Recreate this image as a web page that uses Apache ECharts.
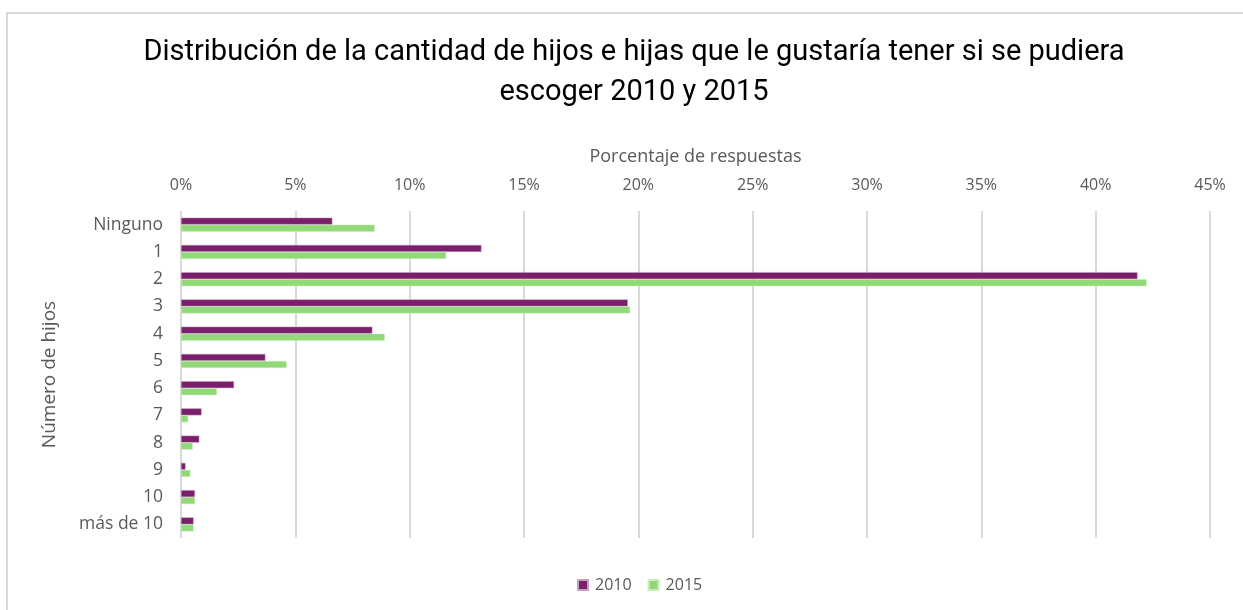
<!DOCTYPE html>
<html>
<head>
<meta charset="utf-8">
<style>
  html, body { margin: 0; padding: 0; background: #ffffff; }
  #chart { width: 1243px; height: 610px; }
</style>
<script src="https://cdn.jsdelivr.net/npm/echarts@6/dist/echarts.min.js"></script>
</head>
<body>
<div id="chart"></div>
<script>
// Categories: number of children, top to bottom
const categories = ['Ninguno', '1', '2', '3', '4', '5', '6', '7', '8', '9', '10', 'más de 10'];

// Share of answers (%) per survey year
const values2010 = [6.62, 13.14, 41.83, 19.54, 8.37, 3.69, 2.32, 0.90, 0.80, 0.20, 0.61, 0.55];
const values2015 = [8.47, 11.60, 42.23, 19.64, 8.91, 4.62, 1.57, 0.31, 0.51, 0.41, 0.61, 0.55];

// Percentage axis ticks
const xTicks = [0, 5, 10, 15, 20, 25, 30, 35, 40, 45];

const chart = echarts.init(document.getElementById('chart'), null, { renderer: 'canvas' });

const axisGray = '#595959';

chart.setOption({
  backgroundColor: '#ffffff',
  animation: false,
  graphic: [{
    type: 'rect',
    shape: { x: 7, y: 13, width: 1250, height: 620 },
    style: { fill: 'none', stroke: '#d9d9d9', lineWidth: 2 },
    silent: true,
    z: -1
  }],
  title: {
    text: 'Distribución de la cantidad de hijos e hijas que le gustaría tener si se pudiera\nescoger 2010 y 2015',
    left: 629,
    top: 28,
    textAlign: 'center',
    textStyle: {
      fontFamily: 'Roboto, sans-serif',
      fontWeight: 'normal',
      fontSize: 29,
      lineHeight: 40,
      color: '#000000'
    }
  },
  legend: {
    data: ['2010', '2015'],
    left: 577,
    top: 577,
    padding: 0,
    itemWidth: 10,
    itemHeight: 10,
    itemGap: 16,
    icon: 'rect',
    textStyle: { fontFamily: 'Open Sans, sans-serif', fontSize: 16, color: axisGray, padding: [0, 0, 0, 2] }
  },
  grid: {
    left: 181,
    right: 33,
    top: 211,
    height: 327,
    containLabel: false
  },
  xAxis: {
    type: 'value',
    position: 'top',
    min: 0,
    max: 45,
    interval: 5,
    name: 'Porcentaje de respuestas',
    nameLocation: 'middle',
    nameGap: 45,
    nameTextStyle: { fontFamily: 'Open Sans, sans-serif', fontSize: 18, color: axisGray },
    axisLine: { show: false },
    axisTick: { show: false },
    axisLabel: {
      margin: 18,
      fontFamily: 'Open Sans, sans-serif',
      fontSize: 16,
      color: axisGray,
      formatter: function (v) { return xTicks.includes(v) ? v + '%' : ''; }
    },
    splitLine: { show: true, lineStyle: { color: '#d9d9d9', width: 2 } }
  },
  yAxis: {
    type: 'category',
    data: categories,
    inverse: true,
    name: 'Número de hijos',
    nameLocation: 'middle',
    nameGap: 122,
    nameRotate: 90,
    nameTextStyle: { fontFamily: 'Open Sans, sans-serif', fontSize: 19, color: axisGray },
    axisLine: { show: false },
    axisTick: { show: false },
    axisLabel: {
      margin: 18,
      fontFamily: 'Open Sans, sans-serif',
      fontSize: 17.5,
      color: axisGray
    }
  },
  series: [
    {
      name: '2010',
      type: 'bar',
      data: values2010,
      barWidth: 7,
      barGap: '0%',
      itemStyle: { color: '#7a1f6c', borderColor: '#c79fc0', borderWidth: 0.5 }
    },
    {
      name: '2015',
      type: 'bar',
      data: values2015,
      barWidth: 7,
      barGap: '0%',
      itemStyle: { color: '#92d879', borderColor: '#c9eebc', borderWidth: 0.5 }
    }
  ]
});
</script>
</body>
</html>
